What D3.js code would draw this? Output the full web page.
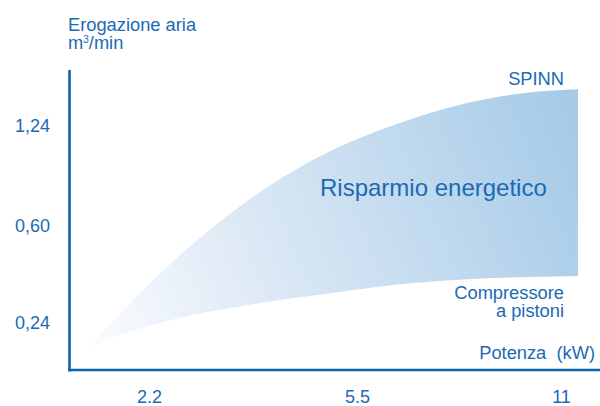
<!DOCTYPE html>
<html>
<head>
<meta charset="utf-8">
<script src="https://cdn.jsdelivr.net/npm/d3@7"></script>
<style>
	body { margin: 0; background: #fff; }
	svg text { font-family: 'Liberation Sans', Arial, sans-serif; fill: #1b6ab3; white-space: pre; }
</style>
</head>
<body>
<div id="chart"></div>
<script>
// ********** SPINN vs piston compressor chart **********

// Tick labels
const xTicks = [2.2, 5.5, 11];
const xTickLabels = ['2.2', '5.5', '11'];
const yTicks = [0.24, 0.60, 1.24];
const yTickLabels = ['0,24', '0,60', '1,24'];

// Power (kW) sampled along both curves
const power = [1.22, 1.69, 2.22, 2.69, 3.22, 3.96, 5.23, 6.58, 8.36, 10.16, 11.46];
// Air delivery (m3/min) - SPINN
const spinn = [0.145, 0.262, 0.387, 0.49, 0.594, 0.814, 1.106, 1.25, 1.378, 1.451, 1.472];
// Air delivery (m3/min) - piston compressor
const pistoni = [0.145, 0.19, 0.229, 0.258, 0.283, 0.312, 0.353, 0.381, 0.40, 0.409, 0.413];

const width = 600;
const height = 406;

// Frame of the chart (axis lines)
const frame = { left: 69.5, top: 70, right: 600, bottom: 370 };

const svg = d3.select('#chart')
	.append('svg')
	.attr('width', width)
	.attr('height', height);

// Scales - the original uses evenly spaced ticks, so piecewise linear
const xScale = d3.scaleLinear()
	.domain(xTicks)
	.range([149, 357, 561]);

const yScale = d3.scaleLinear()
	.domain(yTicks)
	.range([322.5, 225.5, 125.5]);

// Gradient for the saving area
const grad = svg.append('defs')
	.append('linearGradient')
	.attr('id', 'saving')
	.attr('gradientUnits', 'userSpaceOnUse')
	.attr('x1', 87).attr('y1', 348)
	.attr('x2', 578).attr('y2', 140);

grad.append('stop').attr('offset', 0).attr('stop-color', '#fbfdff');
grad.append('stop').attr('offset', 0.35).attr('stop-color', '#dde9f5');
grad.append('stop').attr('offset', 1).attr('stop-color', '#a6cbe8');

// Area between the two curves
const rows = power.map((p, i) => ({ p: p, hi: spinn[i], lo: pistoni[i] }));

const area = d3.area()
	.x(d => xScale(d.p))
	.y0(d => yScale(d.lo))
	.y1(d => yScale(d.hi))
	.curve(d3.curveMonotoneX);

svg.append('path')
	.datum(rows)
	.attr('d', area)
	.attr('fill', 'url(#saving)');

// Axis lines
svg.append('line')
	.attr('x1', frame.left).attr('x2', frame.left)
	.attr('y1', frame.top).attr('y2', frame.bottom + 1.5)
	.attr('stroke', '#0a63ad')
	.attr('stroke-width', 2.6);

svg.append('line')
	.attr('x1', frame.left - 1.3).attr('x2', frame.right)
	.attr('y1', frame.bottom).attr('y2', frame.bottom)
	.attr('stroke', '#0a63ad')
	.attr('stroke-width', 2.6);

// Tick labels via d3 axes (no tick lines, no domain)
const xAxis = d3.axisBottom(xScale)
	.tickValues(xTicks)
	.tickFormat((d, i) => xTickLabels[i])
	.tickSize(0)
	.tickPadding(0);

const gx = svg.append('g')
	.attr('transform', 'translate(0, 390)')
	.call(xAxis);

const yAxis = d3.axisLeft(yScale)
	.tickValues(yTicks)
	.tickFormat((d, i) => yTickLabels[i])
	.tickSize(0)
	.tickPadding(0);

const gy = svg.append('g')
	.attr('transform', 'translate(50, 0)')
	.call(yAxis);

[gx, gy].forEach(g => {
	g.select('.domain').remove();
	g.selectAll('text')
		.attr('font-family', null)
		.style('font-size', '18px')
		.style('fill', '#1b6ab3');
});
gx.selectAll('text').attr('dy', '0.71em');

// Labels
const label = (x, y, txt, size, anchor) => svg.append('text')
	.attr('x', x)
	.attr('y', y)
	.attr('text-anchor', anchor || 'start')
	.style('font-size', size + 'px')
	.text(txt);

label(68, 31, 'Erogazione aria', 18.3);
const unit = label(68, 48.5, 'm', 18.3);
unit.append('tspan').attr('dy', -6).style('font-size', '10px').text('3');
unit.append('tspan').attr('dy', 6).text('/min');

label(564, 85, 'SPINN', 18.3, 'end');
label(564, 299, 'Compressore', 18.3, 'end');
label(564, 317, 'a pistoni', 18.3, 'end');
label(595, 359, 'Potenza  (kW)', 18.3, 'end');
label(320, 196, 'Risparmio energetico', 24);
</script>
</body>
</html>
